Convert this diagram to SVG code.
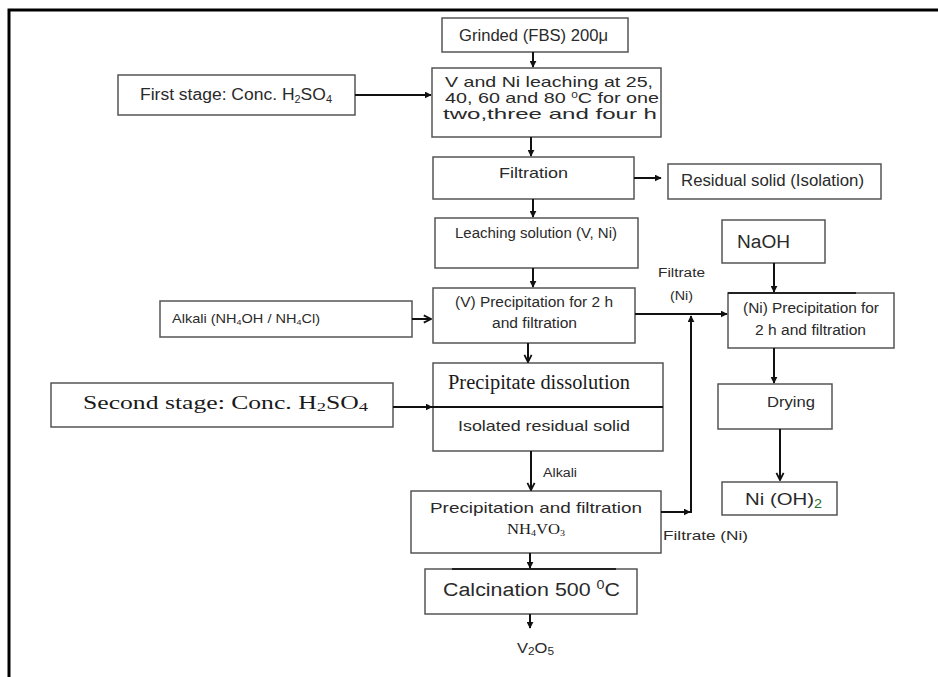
<svg xmlns="http://www.w3.org/2000/svg" width="938" height="677" viewBox="0 0 938 677">
<defs>
<style>
.box{fill:#fff;stroke:#555;stroke-width:1.5}
.t{font-family:"Liberation Sans",Arial,sans-serif;fill:#2a2a2a}
.s{font-family:"Liberation Serif","Times New Roman",serif;fill:#1a1a1a}
.ln{stroke:#111;stroke-width:2;fill:none}
.frame{stroke:#000;stroke-width:3;fill:none}
</style>
<marker id="ah" viewBox="0 0 10 10" refX="9" refY="5" markerWidth="7" markerHeight="7" orient="auto" markerUnits="userSpaceOnUse">
<path d="M0,0 L10,5 L0,10 Z" fill="#111"/>
</marker>
<marker id="ao" viewBox="0 0 10 10" refX="9" refY="5" markerWidth="9" markerHeight="10" orient="auto" markerUnits="userSpaceOnUse">
<path d="M1,1 L9,5 L1,9" fill="none" stroke="#111" stroke-width="2"/>
</marker>
</defs>
<rect width="938" height="677" fill="#fff"/>
<path class="frame" d="M9,677 V10 H938"/>

<g id="grinded">
<rect class="box" x="442" y="18" width="186" height="34"/>
<text class="t" x="459" y="41" font-size="16" textLength="149" lengthAdjust="spacingAndGlyphs">Grinded (FBS) 200μ</text>
</g>

<g id="leach">
<rect class="box" x="432" y="68" width="229" height="69"/>
<text class="t" x="445" y="87" font-size="15" textLength="208" lengthAdjust="spacingAndGlyphs">V and Ni leaching at 25,</text>
<text class="t" x="445" y="103" font-size="15" textLength="214" lengthAdjust="spacingAndGlyphs">40, 60 and 80 <tspan font-size="9" dy="-5">0</tspan><tspan dy="5">C for one</tspan></text>
<text class="t" x="443" y="119" font-size="15" textLength="214" lengthAdjust="spacingAndGlyphs">two,three and four h</text>
</g>

<g id="first">
<rect class="box" x="118" y="75" width="237" height="40"/>
<text class="t" x="140" y="100" font-size="16" textLength="192" lengthAdjust="spacingAndGlyphs">First stage: Conc. H<tspan font-size="10" dy="3">2</tspan><tspan dy="-3">SO</tspan><tspan font-size="10" dy="3">4</tspan></text>
</g>

<g id="filtration">
<rect class="box" x="433" y="157" width="201" height="42"/>
<text class="t" x="499" y="178" font-size="15" textLength="69" lengthAdjust="spacingAndGlyphs">Filtration</text>
</g>

<g id="residual">
<rect class="box" x="668" y="164" width="213" height="35"/>
<text class="t" x="681" y="186" font-size="16" textLength="183" lengthAdjust="spacingAndGlyphs">Residual solid (Isolation)</text>
</g>

<g id="leachsol">
<rect class="box" x="435" y="218" width="203" height="50"/>
<text class="t" x="455" y="238" font-size="14" textLength="162" lengthAdjust="spacingAndGlyphs">Leaching solution (V, Ni)</text>
</g>

<g id="vprecip">
<rect class="box" x="433" y="288" width="202" height="55"/>
<text class="t" x="455" y="307" font-size="14" textLength="158" lengthAdjust="spacingAndGlyphs">(V) Precipitation for 2 h</text>
<text class="t" x="492" y="328" font-size="14" textLength="85" lengthAdjust="spacingAndGlyphs">and filtration</text>
</g>

<g id="alkali">
<rect class="box" x="160" y="301" width="252" height="36"/>
<text class="t" x="172" y="323" font-size="13" textLength="148" lengthAdjust="spacingAndGlyphs">Alkali (NH<tspan font-size="8" dy="2">4</tspan><tspan dy="-2">OH / NH</tspan><tspan font-size="8" dy="2">4</tspan><tspan dy="-2">Cl)</tspan></text>
</g>

<g id="naoh">
<rect class="box" x="722" y="220" width="103" height="43"/>
<text class="t" x="737" y="248" font-size="18" textLength="53" lengthAdjust="spacingAndGlyphs">NaOH</text>
</g>

<g id="niprecip">
<rect class="box" x="728" y="293" width="166" height="55"/>
<line x1="728" y1="293" x2="856" y2="293" stroke="#222" stroke-width="2"/>
<text class="t" x="743" y="313" font-size="14" textLength="136" lengthAdjust="spacingAndGlyphs">(Ni) Precipitation for</text>
<text class="t" x="755" y="335" font-size="14" textLength="111" lengthAdjust="spacingAndGlyphs">2 h and filtration</text>
</g>

<g id="drying">
<rect class="box" x="718" y="384" width="114" height="45"/>
<text class="t" x="767" y="407" font-size="15" textLength="48" lengthAdjust="spacingAndGlyphs">Drying</text>
</g>

<g id="nioh">
<rect class="box" x="722" y="482" width="115" height="33"/>
<text class="t" x="745" y="505" font-size="17" textLength="77" lengthAdjust="spacingAndGlyphs">Ni (OH)<tspan font-size="12" dy="3" fill="#2a6a2a">2</tspan></text>
</g>

<g id="second">
<rect class="box" x="51" y="383" width="342" height="44"/>
<text class="s" x="83" y="409" font-size="18" textLength="285" lengthAdjust="spacingAndGlyphs">Second stage: Conc. H<tspan font-size="13" dy="2">2</tspan><tspan dy="-2">SO</tspan><tspan font-size="13" dy="2">4</tspan></text>
</g>

<g id="dissolution">
<rect class="box" x="433" y="363" width="230" height="88"/>
<text class="s" x="448" y="389" font-size="20" textLength="182" lengthAdjust="spacingAndGlyphs">Precipitate dissolution</text>
<text class="t" x="458" y="431" font-size="15" textLength="172" lengthAdjust="spacingAndGlyphs">Isolated residual solid</text>
</g>

<g id="nh4vo3">
<rect class="box" x="411" y="491" width="250" height="62"/>
<text class="t" x="430" y="513" font-size="15" textLength="212" lengthAdjust="spacingAndGlyphs">Precipitation and filtration</text>
<text class="s" x="507" y="534" font-size="15" textLength="58" lengthAdjust="spacingAndGlyphs">NH<tspan font-size="9" dy="2">4</tspan><tspan dy="-2">VO</tspan><tspan font-size="9" dy="2">3</tspan></text>
</g>

<g id="calcination">
<rect class="box" x="425" y="569" width="212" height="45"/>
<line x1="452" y1="569" x2="616" y2="569" stroke="#222" stroke-width="2"/>
<text class="t" x="443" y="596" font-size="18" textLength="177" lengthAdjust="spacingAndGlyphs">Calcination 500 <tspan font-size="12" dy="-7">0</tspan><tspan dy="7">C</tspan></text>
</g>

<g id="v2o5">
<text class="t" x="517" y="653" font-size="14" textLength="37" lengthAdjust="spacingAndGlyphs">V<tspan font-size="10" dy="2">2</tspan><tspan dy="-2">O</tspan><tspan font-size="10" dy="2">5</tspan></text>
</g>

<g id="labels">
<text class="t" x="658" y="277" font-size="12" textLength="47" lengthAdjust="spacingAndGlyphs">Filtrate</text>
<text class="t" x="670" y="300" font-size="12" textLength="23" lengthAdjust="spacingAndGlyphs">(Ni)</text>
<text class="t" x="543" y="477" font-size="12" textLength="34" lengthAdjust="spacingAndGlyphs">Alkali</text>
<text class="t" x="663" y="540" font-size="13" textLength="85" lengthAdjust="spacingAndGlyphs">Filtrate (Ni)</text>
</g>

<g id="connectors">
<line class="ln" x1="533" y1="52" x2="533" y2="67" marker-end="url(#ah)"/>
<line class="ln" x1="355" y1="95" x2="431" y2="95" marker-end="url(#ah)"/>
<line class="ln" x1="531" y1="137" x2="531" y2="156" marker-end="url(#ah)"/>
<line class="ln" x1="634" y1="178" x2="661" y2="178" stroke-width="2.5" marker-end="url(#ah)"/>
<line class="ln" x1="533" y1="199" x2="533" y2="217" stroke-width="2.5" marker-end="url(#ah)"/>
<line class="ln" x1="533" y1="268" x2="533" y2="287" marker-end="url(#ah)"/>
<line class="ln" x1="412" y1="319" x2="431" y2="319" marker-end="url(#ao)"/>
<line class="ln" x1="635" y1="314" x2="727" y2="314" stroke-width="2.5" marker-end="url(#ah)"/>
<line class="ln" x1="661" y1="512" x2="690" y2="512" stroke-width="2.5" marker-end="url(#ah)"/>
<line class="ln" x1="691" y1="513" x2="691" y2="316" marker-end="url(#ah)"/>
<line class="ln" x1="774" y1="263" x2="774" y2="292" marker-end="url(#ah)"/>
<line class="ln" x1="774" y1="348" x2="774" y2="383" marker-end="url(#ah)"/>
<line class="ln" x1="780" y1="429" x2="780" y2="480" stroke-width="3" marker-end="url(#ao)"/>
<line class="ln" x1="528" y1="343" x2="528" y2="362" stroke-width="2.5" marker-end="url(#ao)"/>
<line class="ln" x1="393" y1="407" x2="432" y2="407" marker-end="url(#ah)"/>
<line class="ln" x1="432" y1="407" x2="663" y2="407" stroke-width="2.5"/>
<line class="ln" x1="531" y1="451" x2="531" y2="490" stroke-width="3" marker-end="url(#ao)"/>
<line class="ln" x1="530" y1="553" x2="530" y2="568" marker-end="url(#ah)"/>
<line class="ln" x1="530" y1="614" x2="530" y2="628" marker-end="url(#ah)"/>
</g>
</svg>
